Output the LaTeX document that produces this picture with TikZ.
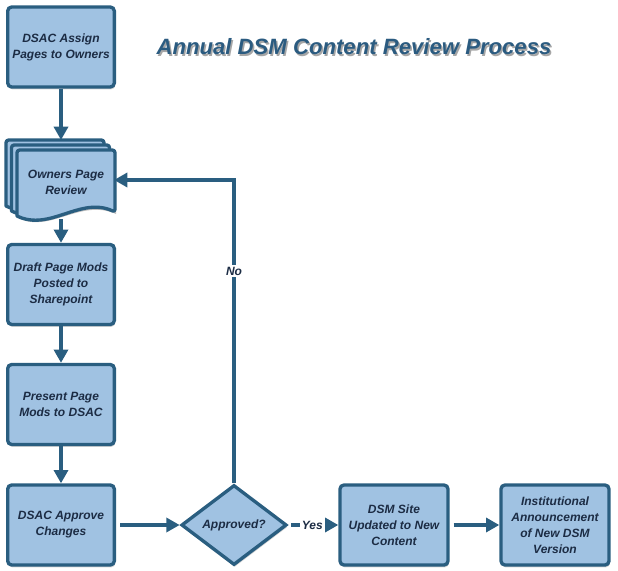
\documentclass[tikz,border=0pt]{standalone}
\usepackage{fontspec}
\setmainfont{Liberation Sans}
\usetikzlibrary{arrows.meta,shapes.geometric,shadows}
\definecolor{boxfill}{HTML}{A0C2E2}
\definecolor{boxline}{HTML}{2A5E80}
\definecolor{txt}{HTML}{1C2C44}
\definecolor{titlec}{HTML}{2B5B80}
\tikzset{
  bfont/.style={font=\fontsize{9pt}{12pt}\selectfont\bfseries\itshape},
  pbox/.style={draw=boxline, fill=boxfill, line width=2.5pt, rounded corners=3pt,
    minimum width=80pt, minimum height=60pt, align=center, text=txt,
    bfont, inner sep=2pt,
    drop shadow={shadow xshift=0.6pt, shadow yshift=-1.8pt, opacity=0.35}},
  pdia/.style={draw=boxline, fill=boxfill, line width=2.5pt, shape=diamond, aspect=1.3,
    minimum width=79pt, minimum height=60pt, inner sep=1pt, text=txt, bfont,
    drop shadow={shadow xshift=0.6pt, shadow yshift=-1.8pt, opacity=0.35}},
  page/.style={draw=boxline, fill=boxfill, line width=2.5pt, line join=round},
  conn/.style={draw=boxline, line width=3pt, -{Triangle[length=10pt,width=10.5pt]}},
  lbl/.style={fill=white, text=txt, inner sep=1.5pt, bfont},
}
\begin{document}
\begin{tikzpicture}[x=0.75pt,y=-0.75pt]
\useasboundingbox (0,0) rectangle (618,571);
% title
\node (titlesh) at (355.5,48.8) {\fontsize{16.6pt}{19pt}\selectfont\bfseries\itshape\color{black!35}Annual DSM Content Review Process};
\node (title) at (354,47) {\fontsize{16.6pt}{19pt}\selectfont\bfseries\itshape\color{titlec}Annual DSM Content Review Process};
% boxes
\node[pbox] (assign) at (61,47) {DSAC Assign\\Pages to Owners};
% document stack
\foreach \dx/\dy in {-11/-10,-5.5/-5,0/0}{
  \begin{scope}[shift={(\dx,\dy)}]
  \fill[black, opacity=0.25] (18,152) -- (116,152) -- (116,214) .. controls (80,198) and (50,234) .. (18,218) -- cycle;
  \draw[page, rounded corners=2pt] (17,150) -- (115,150) -- (115,212) [sharp corners] .. controls (80,196) and (50,232) .. (17,216) [rounded corners=2pt] -- cycle;
  \end{scope}
}
\node[text=txt, align=center, bfont] (doc) at (66,182) {Owners Page\\Review};
\coordinate (doctop) at (61,140);
\coordinate (docbot) at (61,219);
\coordinate (docright) at (114,180);
\node[pbox] (draft) at (61,284.5) {Draft Page Mods\\Posted to\\Sharepoint};
\node[pbox] (present) at (61,404.5) {Present Page\\Mods to DSAC};
\node[pbox] (approve) at (61,525) {DSAC Approve\\Changes};
\node[pdia] (dia) at (234,525) {Approved?};
\node[pbox, minimum width=81pt] (site) at (394,525) {DSM Site\\Updated to New\\Content};
\node[pbox, minimum width=81pt] (announce) at (555,525) {Institutional\\Announcement\\of New DSM\\Version};
% connectors
\draw[conn] (assign.south) -- (doctop);
\draw[conn] (docbot) -- (draft.north);
\draw[conn] (draft.south) -- (present.north);
\draw[conn] (present.south) -- (approve.north);
\draw[conn, shorten <=3pt] (approve.east) -- (dia.west);
\draw[conn] ([xshift=2pt]dia.east) -- node[lbl, pos=0.45] (yes) {Yes} (site.west);
\draw[conn, shorten <=3pt] (site.east) -- (announce.west);
\draw[conn] (dia.north) |- node[lbl, pos=0.35] (no) {No} (docright);
\end{tikzpicture}
\end{document}
